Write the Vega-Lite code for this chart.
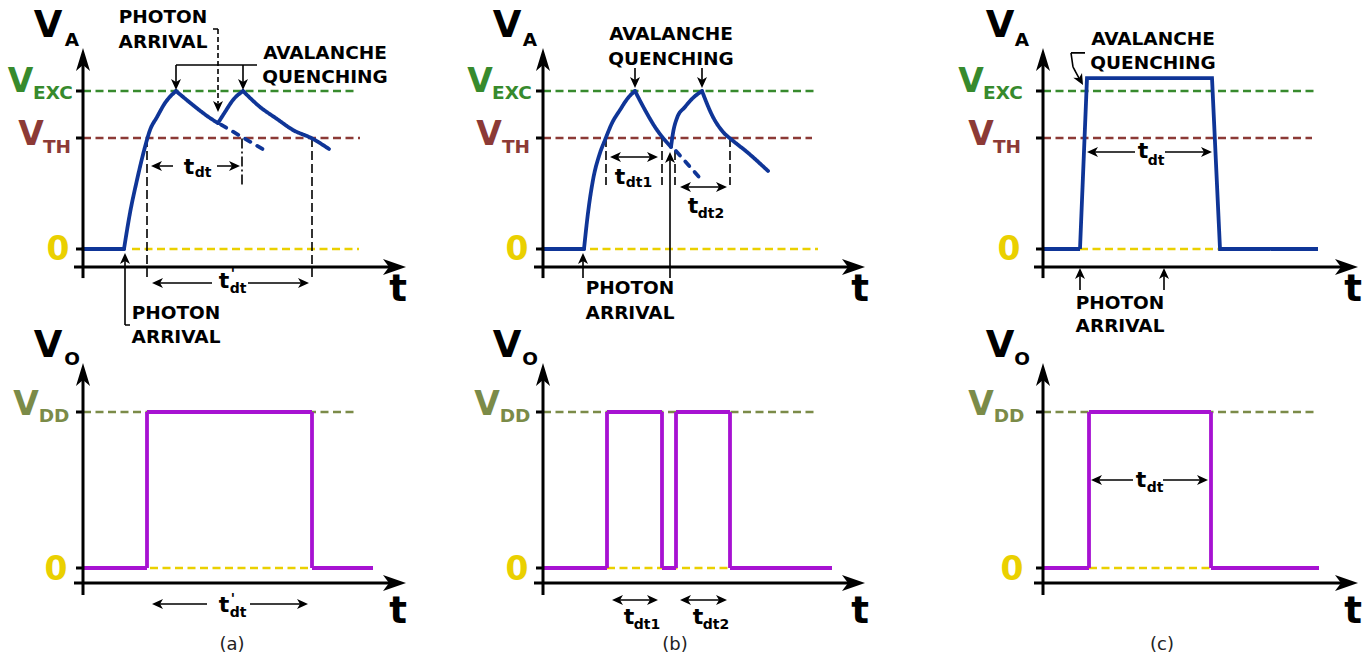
{
"$schema": "https://vega.github.io/schema/vega-lite/v6.json",
"padding": 0,
"background": "white",
"columns": 3,
"spacing": 0,
"bounds": "flush",
"align": "each",
"config": {"view": {"stroke": null}, "font": "DejaVu Sans", "legend": {"disable": true}},
"datasets": {
"sig": [
{"p":"aT","seg":"f","i":0,"t":0,"v":0,"h":"va","k":"solid"},
{"p":"aT","seg":"f","i":1,"t":4.1,"v":0,"h":"va","k":"solid"},
{"p":"aT","seg":"r1","i":2,"t":4.1,"v":0,"h":"va","k":"solid"},
{"p":"aT","seg":"r1","i":3,"t":4.7,"v":0.228,"h":"va","k":"solid"},
{"p":"aT","seg":"r1","i":4,"t":5.4,"v":0.437,"h":"va","k":"solid"},
{"p":"aT","seg":"r1","i":5,"t":6.2,"v":0.646,"h":"va","k":"solid"},
{"p":"aT","seg":"r1","i":6,"t":6.7,"v":0.753,"h":"va","k":"solid"},
{"p":"aT","seg":"r1","i":7,"t":7.4,"v":0.835,"h":"va","k":"solid"},
{"p":"aT","seg":"r1","i":8,"t":8.2,"v":0.924,"h":"va","k":"solid"},
{"p":"aT","seg":"r1","i":9,"t":9.3,"v":1,"h":"va","k":"solid"},
{"p":"aT","seg":"d1","i":10,"t":9.3,"v":1,"h":"va","k":"solid"},
{"p":"aT","seg":"d1","i":11,"t":11.0,"v":0.911,"h":"va","k":"solid"},
{"p":"aT","seg":"d1","i":12,"t":12.7,"v":0.829,"h":"va","k":"solid"},
{"p":"aT","seg":"d1","i":13,"t":13.5,"v":0.797,"h":"va","k":"solid"},
{"p":"aT","seg":"r2","i":14,"t":13.5,"v":0.797,"h":"va","k":"solid"},
{"p":"aT","seg":"r2","i":15,"t":14.2,"v":0.867,"h":"va","k":"solid"},
{"p":"aT","seg":"r2","i":16,"t":15.0,"v":0.943,"h":"va","k":"solid"},
{"p":"aT","seg":"r2","i":17,"t":16.0,"v":1,"h":"va","k":"solid"},
{"p":"aT","seg":"d2","i":18,"t":16.0,"v":1,"h":"va","k":"solid"},
{"p":"aT","seg":"d2","i":19,"t":17.7,"v":0.899,"h":"va","k":"solid"},
{"p":"aT","seg":"d2","i":20,"t":19.4,"v":0.823,"h":"va","k":"solid"},
{"p":"aT","seg":"d2","i":21,"t":21.0,"v":0.753,"h":"va","k":"solid"},
{"p":"aT","seg":"d2","i":22,"t":22.9,"v":0.70,"h":"va","k":"solid"},
{"p":"aT","seg":"d2","i":23,"t":24.6,"v":0.633,"h":"va","k":"solid"},
{"p":"aT","seg":"x","i":24,"t":13.8,"v":0.787,"h":"va","k":"sdash"},
{"p":"aT","seg":"x","i":25,"t":18.3,"v":0.62,"h":"va","k":"sdash"},
{"p":"bT","seg":"f","i":0,"t":0,"v":0,"h":"va","k":"solid"},
{"p":"bT","seg":"f","i":1,"t":4.1,"v":0,"h":"va","k":"solid"},
{"p":"bT","seg":"r1","i":2,"t":4.1,"v":0,"h":"va","k":"solid"},
{"p":"bT","seg":"r1","i":3,"t":4.5,"v":0.228,"h":"va","k":"solid"},
{"p":"bT","seg":"r1","i":4,"t":5.0,"v":0.437,"h":"va","k":"solid"},
{"p":"bT","seg":"r1","i":5,"t":5.7,"v":0.608,"h":"va","k":"solid"},
{"p":"bT","seg":"r1","i":6,"t":6.2,"v":0.69,"h":"va","k":"solid"},
{"p":"bT","seg":"r1","i":7,"t":6.9,"v":0.797,"h":"va","k":"solid"},
{"p":"bT","seg":"r1","i":8,"t":7.7,"v":0.88,"h":"va","k":"solid"},
{"p":"bT","seg":"r1","i":9,"t":8.5,"v":0.956,"h":"va","k":"solid"},
{"p":"bT","seg":"r1","i":10,"t":9.2,"v":1,"h":"va","k":"solid"},
{"p":"bT","seg":"d1","i":11,"t":9.2,"v":1,"h":"va","k":"solid"},
{"p":"bT","seg":"d1","i":12,"t":10.2,"v":0.88,"h":"va","k":"solid"},
{"p":"bT","seg":"d1","i":13,"t":11.2,"v":0.772,"h":"va","k":"solid"},
{"p":"bT","seg":"d1","i":14,"t":12.0,"v":0.703,"h":"va","k":"solid"},
{"p":"bT","seg":"d1","i":15,"t":12.8,"v":0.646,"h":"va","k":"solid"},
{"p":"bT","seg":"r2","i":16,"t":12.8,"v":0.646,"h":"va","k":"solid"},
{"p":"bT","seg":"r2","i":17,"t":13.0,"v":0.734,"h":"va","k":"solid"},
{"p":"bT","seg":"r2","i":18,"t":13.4,"v":0.829,"h":"va","k":"solid"},
{"p":"bT","seg":"r2","i":19,"t":14.2,"v":0.899,"h":"va","k":"solid"},
{"p":"bT","seg":"r2","i":20,"t":15.0,"v":0.956,"h":"va","k":"solid"},
{"p":"bT","seg":"r2","i":21,"t":15.9,"v":1,"h":"va","k":"solid"},
{"p":"bT","seg":"d2","i":22,"t":15.9,"v":1,"h":"va","k":"solid"},
{"p":"bT","seg":"d2","i":23,"t":17.0,"v":0.835,"h":"va","k":"solid"},
{"p":"bT","seg":"d2","i":24,"t":18.0,"v":0.741,"h":"va","k":"solid"},
{"p":"bT","seg":"d2","i":25,"t":18.9,"v":0.69,"h":"va","k":"solid"},
{"p":"bT","seg":"d2","i":26,"t":20.4,"v":0.614,"h":"va","k":"solid"},
{"p":"bT","seg":"d2","i":27,"t":22.5,"v":0.494,"h":"va","k":"solid"},
{"p":"bT","seg":"x","i":28,"t":13.3,"v":0.62,"h":"va","k":"sdash"},
{"p":"bT","seg":"x","i":29,"t":15.6,"v":0.456,"h":"va","k":"sdash"},
{"p":"cT","seg":"c1","i":0,"t":0,"v":0,"h":"va","k":"solid"},
{"p":"cT","seg":"c1","i":1,"t":3.7,"v":0,"h":"va","k":"solid"},
{"p":"cT","seg":"c1","i":2,"t":4.4,"v":1.082,"h":"va","k":"solid"},
{"p":"cT","seg":"c1","i":3,"t":16.9,"v":1.082,"h":"va","k":"solid"},
{"p":"cT","seg":"c1","i":4,"t":17.7,"v":0,"h":"va","k":"solid"},
{"p":"cT","seg":"c1","i":5,"t":27.5,"v":0,"h":"va","k":"solid"},
{"p":"aB","seg":"d1","i":0,"t":0,"v":0,"h":"vo","k":"solid"},
{"p":"aB","seg":"d1","i":1,"t":6.4,"v":0,"h":"vo","k":"solid"},
{"p":"aB","seg":"d1","i":2,"t":6.4,"v":1,"h":"vo","k":"solid"},
{"p":"aB","seg":"d1","i":3,"t":22.9,"v":1,"h":"vo","k":"solid"},
{"p":"aB","seg":"d1","i":4,"t":22.9,"v":0,"h":"vo","k":"solid"},
{"p":"aB","seg":"d1","i":5,"t":29.0,"v":0,"h":"vo","k":"solid"},
{"p":"bB","seg":"e1","i":0,"t":0,"v":0,"h":"vo","k":"solid"},
{"p":"bB","seg":"e1","i":1,"t":6.4,"v":0,"h":"vo","k":"solid"},
{"p":"bB","seg":"e1","i":2,"t":6.4,"v":1,"h":"vo","k":"solid"},
{"p":"bB","seg":"e1","i":3,"t":11.9,"v":1,"h":"vo","k":"solid"},
{"p":"bB","seg":"e1","i":4,"t":11.9,"v":0,"h":"vo","k":"solid"},
{"p":"bB","seg":"e1","i":5,"t":13.3,"v":0,"h":"vo","k":"solid"},
{"p":"bB","seg":"e1","i":6,"t":13.3,"v":1,"h":"vo","k":"solid"},
{"p":"bB","seg":"e1","i":7,"t":18.7,"v":1,"h":"vo","k":"solid"},
{"p":"bB","seg":"e1","i":8,"t":18.7,"v":0,"h":"vo","k":"solid"},
{"p":"bB","seg":"e1","i":9,"t":28.9,"v":0,"h":"vo","k":"solid"},
{"p":"cB","seg":"f1","i":0,"t":0,"v":0,"h":"vo","k":"solid"},
{"p":"cB","seg":"f1","i":1,"t":4.6,"v":0,"h":"vo","k":"solid"},
{"p":"cB","seg":"f1","i":2,"t":4.6,"v":1,"h":"vo","k":"solid"},
{"p":"cB","seg":"f1","i":3,"t":16.8,"v":1,"h":"vo","k":"solid"},
{"p":"cB","seg":"f1","i":4,"t":16.8,"v":0,"h":"vo","k":"solid"},
{"p":"cB","seg":"f1","i":5,"t":27.6,"v":0,"h":"vo","k":"solid"}
],
"refs": [
{"p":"aT","t":0,"t2":27.5,"v":1,"h":"exc"},
{"p":"aT","t":0,"t2":27.7,"v":0.7025,"h":"th"},
{"p":"aT","t":4.9,"t2":27.6,"v":0,"h":"zero"},
{"p":"bT","t":0,"t2":27.4,"v":1,"h":"exc"},
{"p":"bT","t":0,"t2":26.9,"v":0.7025,"h":"th"},
{"p":"bT","t":4.7,"t2":27.5,"v":0,"h":"zero"},
{"p":"cT","t":0,"t2":27.4,"v":1,"h":"exc"},
{"p":"cT","t":0,"t2":26.9,"v":0.7025,"h":"th"},
{"p":"cT","t":3.7,"t2":17.7,"v":0,"h":"zero"},
{"p":"aB","t":0,"t2":27.4,"v":1,"h":"dd"},
{"p":"aB","t":6.7,"t2":22.7,"v":0,"h":"zero"},
{"p":"bB","t":0,"t2":27.4,"v":1,"h":"dd"},
{"p":"bB","t":6.4,"t2":18.7,"v":0,"h":"zero"},
{"p":"cB","t":0,"t2":27.4,"v":1,"h":"dd"},
{"p":"cB","t":4.6,"t2":16.8,"v":0,"h":"zero"}
],
"thick": [
{"p":"aT","t":0,"v":-0.184,"t2":0,"v2":1.196},
{"p":"aT","t":-0.9,"v":-0.114,"t2":31.1,"v2":-0.114},
{"p":"aT","t":-0.7,"v":1,"t2":0,"v2":1},
{"p":"aT","t":-0.7,"v":0.7025,"t2":0,"v2":0.7025},
{"p":"aT","t":-0.7,"v":0,"t2":0,"v2":0},
{"p":"bT","t":0,"v":-0.184,"t2":0,"v2":1.196},
{"p":"bT","t":-0.9,"v":-0.114,"t2":31.0,"v2":-0.114},
{"p":"bT","t":-0.7,"v":1,"t2":0,"v2":1},
{"p":"bT","t":-0.7,"v":0.7025,"t2":0,"v2":0.7025},
{"p":"bT","t":-0.7,"v":0,"t2":0,"v2":0},
{"p":"cT","t":0,"v":-0.184,"t2":0,"v2":1.196},
{"p":"cT","t":-0.9,"v":-0.114,"t2":30.3,"v2":-0.114},
{"p":"cT","t":-0.7,"v":1,"t2":0,"v2":1},
{"p":"cT","t":-0.7,"v":0.7025,"t2":0,"v2":0.7025},
{"p":"cT","t":-0.7,"v":0,"t2":0,"v2":0},
{"p":"aB","t":0,"v":-0.173,"t2":0,"v2":1.237},
{"p":"aB","t":-0.9,"v":-0.096,"t2":31.1,"v2":-0.096},
{"p":"aB","t":-0.7,"v":1,"t2":0,"v2":1},
{"p":"aB","t":-0.7,"v":0,"t2":0,"v2":0},
{"p":"bB","t":0,"v":-0.173,"t2":0,"v2":1.237},
{"p":"bB","t":-0.9,"v":-0.096,"t2":31.0,"v2":-0.096},
{"p":"bB","t":-0.7,"v":1,"t2":0,"v2":1},
{"p":"bB","t":-0.7,"v":0,"t2":0,"v2":0},
{"p":"cB","t":0,"v":-0.173,"t2":0,"v2":1.237},
{"p":"cB","t":-0.9,"v":-0.096,"t2":30.3,"v2":-0.096},
{"p":"cB","t":-0.7,"v":1,"t2":0,"v2":1},
{"p":"cB","t":-0.7,"v":0,"t2":0,"v2":0}
],
"thin": [
{"p":"aT","t":6.4,"v":0.7025,"t2":6.4,"v2":-0.177,"k":"vdash"},
{"p":"aT","t":22.9,"v":0.7025,"t2":22.9,"v2":-0.177,"k":"vdash"},
{"p":"aT","t":15.9,"v":0.70,"t2":15.9,"v2":0.405,"k":"dashdot"},
{"p":"aT","t":7.2,"v":0.525,"t2":9.0,"v2":0.525,"k":"solid"},
{"p":"aT","t":13.4,"v":0.525,"t2":15.3,"v2":0.525,"k":"solid"},
{"p":"aT","t":7.3,"v":-0.215,"t2":12.9,"v2":-0.215,"k":"solid"},
{"p":"aT","t":16.5,"v":-0.215,"t2":22.2,"v2":-0.215,"k":"solid"},
{"p":"aT","t":13.0,"v":1.392,"t2":13.5,"v2":1.392,"k":"solid"},
{"p":"aT","t":13.5,"v":1.392,"t2":13.5,"v2":0.92,"k":"dash"},
{"p":"aT","t":9.3,"v":1.165,"t2":17.4,"v2":1.165,"k":"solid"},
{"p":"aT","t":9.3,"v":1.165,"t2":9.3,"v2":1.04,"k":"solid"},
{"p":"aT","t":16.0,"v":1.165,"t2":16.0,"v2":1.04,"k":"solid"},
{"p":"aT","t":4.2,"v":-0.481,"t2":4.2,"v2":-0.06,"k":"solid"},
{"p":"aT","t":4.2,"v":-0.481,"t2":4.7,"v2":-0.481,"k":"solid"},
{"p":"bT","t":6.3,"v":0.7025,"t2":6.3,"v2":0.405,"k":"vdash"},
{"p":"bT","t":11.9,"v":0.7025,"t2":11.9,"v2":0.405,"k":"vdash"},
{"p":"bT","t":13.2,"v":0.62,"t2":13.2,"v2":0.405,"k":"vdash"},
{"p":"bT","t":18.7,"v":0.7025,"t2":18.7,"v2":0.405,"k":"vdash"},
{"p":"bT","t":7.1,"v":0.582,"t2":11.1,"v2":0.582,"k":"solid"},
{"p":"bT","t":14.1,"v":0.392,"t2":18.0,"v2":0.392,"k":"solid"},
{"p":"bT","t":9.2,"v":1.146,"t2":9.2,"v2":1.06,"k":"solid"},
{"p":"bT","t":15.9,"v":1.146,"t2":15.9,"v2":1.06,"k":"solid"},
{"p":"bT","t":4.0,"v":-0.184,"t2":4.0,"v2":-0.06,"k":"solid"},
{"p":"bT","t":12.7,"v":-0.184,"t2":12.7,"v2":0.58,"k":"solid"},
{"p":"cT","t":4.2,"v":1.241,"t2":2.8,"v2":1.241,"k":"solid"},
{"p":"cT","t":2.8,"v":1.241,"t2":3.0,"v2":1.152,"k":"solid"},
{"p":"cT","t":3.0,"v":1.152,"t2":3.7,"v2":1.07,"k":"solid"},
{"p":"cT","t":4.8,"v":0.614,"t2":9.2,"v2":0.614,"k":"solid"},
{"p":"cT","t":12.2,"v":0.614,"t2":16.5,"v2":0.614,"k":"solid"},
{"p":"cT","t":3.7,"v":-0.259,"t2":3.7,"v2":-0.16,"k":"solid"},
{"p":"cT","t":12.1,"v":-0.259,"t2":12.1,"v2":-0.16,"k":"solid"},
{"p":"aB","t":7.3,"v":-0.231,"t2":12.4,"v2":-0.231,"k":"solid"},
{"p":"aB","t":16.7,"v":-0.231,"t2":22.1,"v2":-0.231,"k":"solid"},
{"p":"bB","t":7.3,"v":-0.205,"t2":11.1,"v2":-0.205,"k":"solid"},
{"p":"bB","t":14.1,"v":-0.205,"t2":18.0,"v2":-0.205,"k":"solid"},
{"p":"cB","t":5.2,"v":0.564,"t2":9.0,"v2":0.564,"k":"solid"},
{"p":"cB","t":12.0,"v":0.564,"t2":16.1,"v2":0.564,"k":"solid"}
],
"heads": [
{"p":"aT","t":0,"v":1.272,"k":"axu"},
{"p":"aT","t":32.3,"v":-0.114,"k":"axr"},
{"p":"aT","t":6.8,"v":0.525,"k":"l"},
{"p":"aT","t":15.7,"v":0.525,"k":"r"},
{"p":"aT","t":6.9,"v":-0.215,"k":"l"},
{"p":"aT","t":22.6,"v":-0.215,"k":"r"},
{"p":"aT","t":13.5,"v":0.867,"k":"d"},
{"p":"aT","t":9.3,"v":1.006,"k":"d"},
{"p":"aT","t":16.0,"v":1.006,"k":"d"},
{"p":"aT","t":4.2,"v":-0.025,"k":"u"},
{"p":"bT","t":0,"v":1.272,"k":"axu"},
{"p":"bT","t":32.2,"v":-0.114,"k":"axr"},
{"p":"bT","t":9.2,"v":1.019,"k":"d"},
{"p":"bT","t":15.9,"v":1.019,"k":"d"},
{"p":"bT","t":4.0,"v":-0.025,"k":"u"},
{"p":"bT","t":12.7,"v":0.614,"k":"u"},
{"p":"bT","t":6.7,"v":0.582,"k":"l"},
{"p":"bT","t":11.5,"v":0.582,"k":"r"},
{"p":"bT","t":13.7,"v":0.392,"k":"l"},
{"p":"bT","t":18.4,"v":0.392,"k":"r"},
{"p":"cT","t":0,"v":1.272,"k":"axu"},
{"p":"cT","t":31.5,"v":-0.114,"k":"axr"},
{"p":"cT","t":4.0,"v":1.038,"k":"g"},
{"p":"cT","t":4.4,"v":0.614,"k":"l"},
{"p":"cT","t":16.9,"v":0.614,"k":"r"},
{"p":"cT","t":3.7,"v":-0.12,"k":"u"},
{"p":"cT","t":12.1,"v":-0.12,"k":"u"},
{"p":"aB","t":0,"v":1.314,"k":"axu"},
{"p":"aB","t":32.3,"v":-0.096,"k":"axr"},
{"p":"aB","t":6.9,"v":-0.231,"k":"l"},
{"p":"aB","t":22.5,"v":-0.231,"k":"r"},
{"p":"bB","t":0,"v":1.314,"k":"axu"},
{"p":"bB","t":32.2,"v":-0.096,"k":"axr"},
{"p":"bB","t":6.9,"v":-0.205,"k":"l"},
{"p":"bB","t":11.5,"v":-0.205,"k":"r"},
{"p":"bB","t":13.7,"v":-0.205,"k":"l"},
{"p":"bB","t":18.4,"v":-0.205,"k":"r"},
{"p":"cB","t":0,"v":1.314,"k":"axu"},
{"p":"cB","t":31.5,"v":-0.096,"k":"axr"},
{"p":"cB","t":4.8,"v":0.564,"k":"l"},
{"p":"cB","t":16.5,"v":0.564,"k":"r"}
],
"txt": [
{"p":"aT","t":-3.5,"v":1.409,"s":"V","h":"ink","r":"xl"},
{"p":"aT","t":31.5,"v":-0.262,"s":"t","h":"ink","r":"xl"},
{"p":"aT","t":-1.1,"v":1.321,"s":"A","h":"ink","r":"m"},
{"p":"aT","t":-3.0,"v":0.986,"s":"EXC","h":"exc","r":"m"},
{"p":"aT","t":-2.6,"v":0.644,"s":"TH","h":"th","r":"m"},
{"p":"aT","t":8.0,"v":1.467,"s":"PHOTON","h":"ink","r":"m"},
{"p":"aT","t":8.0,"v":1.308,"s":"ARRIVAL","h":"ink","r":"m"},
{"p":"aT","t":24.2,"v":1.239,"s":"AVALANCHE","h":"ink","r":"m"},
{"p":"aT","t":24.2,"v":1.087,"s":"QUENCHING","h":"ink","r":"m"},
{"p":"aT","t":9.3,"v":-0.407,"s":"PHOTON","h":"ink","r":"m"},
{"p":"aT","t":9.3,"v":-0.559,"s":"ARRIVAL","h":"ink","r":"m"},
{"p":"aT","t":-6.25,"v":1.057,"s":"V","h":"exc","r":"l"},
{"p":"aT","t":-5.2,"v":0.721,"s":"V","h":"th","r":"l"},
{"p":"aT","t":-2.5,"v":-0.007,"s":"0","h":"zero","r":"l"},
{"p":"aT","t":10.6,"v":0.518,"s":"t","h":"ink","r":"s"},
{"p":"aT","t":14.1,"v":-0.203,"s":"t","h":"ink","r":"s"},
{"p":"aT","t":12.0,"v":0.48,"s":"dt","h":"ink","r":"xs"},
{"p":"aT","t":15.5,"v":-0.256,"s":"dt","h":"ink","r":"xs"},
{"p":"aT","t":15.0,"v":-0.16,"s":"'","h":"ink","r":"xs"},
{"p":"bT","t":-3.6,"v":1.409,"s":"V","h":"ink","r":"xl"},
{"p":"bT","t":31.7,"v":-0.262,"s":"t","h":"ink","r":"xl"},
{"p":"bT","t":-1.3,"v":1.321,"s":"A","h":"ink","r":"m"},
{"p":"bT","t":-3.1,"v":0.986,"s":"EXC","h":"exc","r":"m"},
{"p":"bT","t":-2.7,"v":0.644,"s":"TH","h":"th","r":"m"},
{"p":"bT","t":12.8,"v":1.359,"s":"AVALANCHE","h":"ink","r":"m"},
{"p":"bT","t":12.8,"v":1.201,"s":"QUENCHING","h":"ink","r":"m"},
{"p":"bT","t":8.7,"v":-0.249,"s":"PHOTON","h":"ink","r":"m"},
{"p":"bT","t":8.7,"v":-0.407,"s":"ARRIVAL","h":"ink","r":"m"},
{"p":"bT","t":-6.3,"v":1.057,"s":"V","h":"exc","r":"l"},
{"p":"bT","t":-5.4,"v":0.721,"s":"V","h":"th","r":"l"},
{"p":"bT","t":-2.6,"v":-0.007,"s":"0","h":"zero","r":"l"},
{"p":"bT","t":7.7,"v":0.458,"s":"t","h":"ink","r":"s"},
{"p":"bT","t":15.0,"v":0.271,"s":"t","h":"ink","r":"s"},
{"p":"bT","t":9.6,"v":0.417,"s":"dt1","h":"ink","r":"xs"},
{"p":"bT","t":16.8,"v":0.224,"s":"dt2","h":"ink","r":"xs"},
{"p":"cT","t":-4.3,"v":1.409,"s":"V","h":"ink","r":"xl"},
{"p":"cT","t":31.0,"v":-0.262,"s":"t","h":"ink","r":"xl"},
{"p":"cT","t":-2.1,"v":1.321,"s":"A","h":"ink","r":"m"},
{"p":"cT","t":-4.0,"v":0.986,"s":"EXC","h":"exc","r":"m"},
{"p":"cT","t":-3.6,"v":0.644,"s":"TH","h":"th","r":"m"},
{"p":"cT","t":11.0,"v":1.327,"s":"AVALANCHE","h":"ink","r":"m"},
{"p":"cT","t":11.0,"v":1.176,"s":"QUENCHING","h":"ink","r":"m"},
{"p":"cT","t":7.7,"v":-0.343,"s":"PHOTON","h":"ink","r":"m"},
{"p":"cT","t":7.7,"v":-0.489,"s":"ARRIVAL","h":"ink","r":"m"},
{"p":"cT","t":-7.2,"v":1.057,"s":"V","h":"exc","r":"l"},
{"p":"cT","t":-6.2,"v":0.721,"s":"V","h":"th","r":"l"},
{"p":"cT","t":-3.4,"v":-0.007,"s":"0","h":"zero","r":"l"},
{"p":"cT","t":10.0,"v":0.62,"s":"t","h":"ink","r":"s"},
{"p":"cT","t":11.3,"v":0.556,"s":"dt","h":"ink","r":"xs"},
{"p":"aB","t":-3.5,"v":1.424,"s":"V","h":"ink","r":"xl"},
{"p":"aB","t":31.5,"v":-0.284,"s":"t","h":"ink","r":"xl"},
{"p":"aB","t":-1.1,"v":1.341,"s":"O","h":"ink","r":"m"},
{"p":"aB","t":-2.9,"v":0.973,"s":"DD","h":"dd","r":"m"},
{"p":"aB","t":-5.7,"v":1.045,"s":"V","h":"dd","r":"l"},
{"p":"aB","t":-2.7,"v":-0.013,"s":"0","h":"zero","r":"l"},
{"p":"aB","t":14.1,"v":-0.235,"s":"t","h":"ink","r":"s"},
{"p":"aB","t":15.5,"v":-0.286,"s":"dt","h":"ink","r":"xs"},
{"p":"aB","t":15.0,"v":-0.199,"s":"'","h":"ink","r":"xs"},
{"p":"aB","t":14.9,"v":-0.494,"s":"(a)","h":"ink","r":"cap"},
{"p":"bB","t":-3.6,"v":1.424,"s":"V","h":"ink","r":"xl"},
{"p":"bB","t":31.7,"v":-0.284,"s":"t","h":"ink","r":"xl"},
{"p":"bB","t":-1.3,"v":1.341,"s":"O","h":"ink","r":"m"},
{"p":"bB","t":-2.8,"v":0.973,"s":"DD","h":"dd","r":"m"},
{"p":"bB","t":-5.6,"v":1.045,"s":"V","h":"dd","r":"l"},
{"p":"bB","t":-2.6,"v":-0.013,"s":"0","h":"zero","r":"l"},
{"p":"bB","t":8.6,"v":-0.315,"s":"t","h":"ink","r":"s"},
{"p":"bB","t":15.5,"v":-0.315,"s":"t","h":"ink","r":"s"},
{"p":"bB","t":10.4,"v":-0.366,"s":"dt1","h":"ink","r":"xs"},
{"p":"bB","t":17.3,"v":-0.366,"s":"dt2","h":"ink","r":"xs"},
{"p":"bB","t":13.2,"v":-0.494,"s":"(b)","h":"ink","r":"cap"},
{"p":"cB","t":-4.3,"v":1.424,"s":"V","h":"ink","r":"xl"},
{"p":"cB","t":31.0,"v":-0.284,"s":"t","h":"ink","r":"xl"},
{"p":"cB","t":-2.1,"v":1.341,"s":"O","h":"ink","r":"m"},
{"p":"cB","t":-3.4,"v":0.973,"s":"DD","h":"dd","r":"m"},
{"p":"cB","t":-6.2,"v":1.045,"s":"V","h":"dd","r":"l"},
{"p":"cB","t":-3.1,"v":-0.013,"s":"0","h":"zero","r":"l"},
{"p":"cB","t":9.8,"v":0.564,"s":"t","h":"ink","r":"s"},
{"p":"cB","t":11.2,"v":0.512,"s":"dt","h":"ink","r":"xs"},
{"p":"cB","t":11.9,"v":-0.494,"s":"(c)","h":"ink","r":"cap"}
]
},
"concat": [
{"width":460,"height":330,
"encoding":{"x":{"field":"t","type":"quantitative","axis":null,"scale":{"domain":[-8.3,37.7],"nice":false,"zero":false}},"y":{"field":"v","type":"quantitative","axis":null,"scale":{"domain":[-0.51266,1.57595],"nice":false,"zero":false}}},
"layer":[
{"data":{"name":"refs"},"transform":[{"filter":"datum.p=='aT'"}],"mark":{"type":"rule","strokeWidth":2.4,"strokeDash":[8,4.5]},"encoding":{"x2":{"field":"t2"},"color":{"field":"h","type":"nominal","legend":null,"scale":{"domain":["exc","th","zero","dd","va","vo","ink"],"range":["#378a2d","#8c3a36","#ead000","#7b8b48","#0f3597","#a712d2","#000000"]}}}},
{"data":{"name":"thin"},"transform":[{"filter":"datum.p=='aT'"}],"mark":{"type":"rule","strokeWidth":1.6,"color":"#000"},"encoding":{"x2":{"field":"t2"},"y2":{"field":"v2"},"strokeDash":{"field":"k","type":"nominal","legend":null,"scale":{"domain":["solid","dash","vdash","dashdot","sdash"],"range":[[1,0],[5,3],[9,4],[10,3,2,3],[6,8]]}}}},
{"data":{"name":"sig"},"transform":[{"filter":"datum.p=='aT'"}],"mark":{"type":"line","strokeWidth":3.8,"interpolate":"monotone","strokeCap":"round"},"encoding":{"color":{"field":"h","type":"nominal","legend":null,"scale":{"domain":["exc","th","zero","dd","va","vo","ink"],"range":["#378a2d","#8c3a36","#ead000","#7b8b48","#0f3597","#a712d2","#000000"]}},"detail":{"field":"seg","type":"nominal"},"order":{"field":"i","type":"quantitative"},"strokeDash":{"field":"k","type":"nominal","legend":null,"scale":{"domain":["solid","dash","vdash","dashdot","sdash"],"range":[[1,0],[5,3],[9,4],[10,3,2,3],[6,8]]}}}},
{"data":{"name":"thick"},"transform":[{"filter":"datum.p=='aT'"}],"mark":{"type":"rule","strokeWidth":3,"color":"#000"},"encoding":{"x2":{"field":"t2"},"y2":{"field":"v2"}}},
{"data":{"name":"heads"},"transform":[{"filter":"datum.p=='aT'"}],"mark":{"type":"point","filled":true,"size":400,"opacity":1,"color":"#000","strokeWidth":0},"encoding":{"shape":{"field":"k","type":"nominal","legend":null,"scale":{"domain":["axr","axu","r","l","u","d","g"],"range":["M0,0L-2.3,-0.8L-1.7,0L-2.3,0.8Z","M0,0L0.7,2.3L0,1.7L-0.7,2.3Z","M0,0L-1.1,-0.5L-0.8,0L-1.1,0.5Z","M0,0L1.1,-0.5L0.8,0L1.1,0.5Z","M0,0L0.5,1.1L0,0.8L-0.5,1.1Z","M0,0L0.5,-1.1L0,-0.8L-0.5,-1.1Z","M0,0L-0.97,-0.72L-0.39,-0.7L-0.1,-1.2Z"]}}}},
{"data":{"name":"txt"},"transform":[{"filter":"datum.p=='aT' && datum.r=='xl'"}],"mark":{"type":"text","font":"DejaVu Sans","fontWeight":"bold","fontSize":37},"encoding":{"text":{"field":"s"},"color":{"field":"h","type":"nominal","legend":null,"scale":{"domain":["exc","th","zero","dd","va","vo","ink"],"range":["#378a2d","#8c3a36","#ead000","#7b8b48","#0f3597","#a712d2","#000000"]}}}},
{"data":{"name":"txt"},"transform":[{"filter":"datum.p=='aT' && datum.r=='l'"}],"mark":{"type":"text","font":"DejaVu Sans","fontWeight":"bold","fontSize":33},"encoding":{"text":{"field":"s"},"color":{"field":"h","type":"nominal","legend":null,"scale":{"domain":["exc","th","zero","dd","va","vo","ink"],"range":["#378a2d","#8c3a36","#ead000","#7b8b48","#0f3597","#a712d2","#000000"]}}}},
{"data":{"name":"txt"},"transform":[{"filter":"datum.p=='aT' && datum.r=='m'"}],"mark":{"type":"text","font":"DejaVu Sans","fontWeight":"bold","fontSize":18.5},"encoding":{"text":{"field":"s"},"color":{"field":"h","type":"nominal","legend":null,"scale":{"domain":["exc","th","zero","dd","va","vo","ink"],"range":["#378a2d","#8c3a36","#ead000","#7b8b48","#0f3597","#a712d2","#000000"]}}}},
{"data":{"name":"txt"},"transform":[{"filter":"datum.p=='aT' && datum.r=='s'"}],"mark":{"type":"text","font":"DejaVu Sans","fontWeight":"bold","fontSize":22,"color":"#000"},"encoding":{"text":{"field":"s"}}},
{"data":{"name":"txt"},"transform":[{"filter":"datum.p=='aT' && datum.r=='xs'"}],"mark":{"type":"text","font":"DejaVu Sans","fontWeight":"bold","fontSize":14,"color":"#000"},"encoding":{"text":{"field":"s"}}}
]},
{"width":500,"height":330,
"encoding":{"x":{"field":"t","type":"quantitative","axis":null,"scale":{"domain":[-8.3,41.7],"nice":false,"zero":false}},"y":{"field":"v","type":"quantitative","axis":null,"scale":{"domain":[-0.51266,1.57595],"nice":false,"zero":false}}},
"layer":[
{"data":{"name":"refs"},"transform":[{"filter":"datum.p=='bT'"}],"mark":{"type":"rule","strokeWidth":2.4,"strokeDash":[8,4.5]},"encoding":{"x2":{"field":"t2"},"color":{"field":"h","type":"nominal","legend":null,"scale":{"domain":["exc","th","zero","dd","va","vo","ink"],"range":["#378a2d","#8c3a36","#ead000","#7b8b48","#0f3597","#a712d2","#000000"]}}}},
{"data":{"name":"thin"},"transform":[{"filter":"datum.p=='bT'"}],"mark":{"type":"rule","strokeWidth":1.6,"color":"#000"},"encoding":{"x2":{"field":"t2"},"y2":{"field":"v2"},"strokeDash":{"field":"k","type":"nominal","legend":null,"scale":{"domain":["solid","dash","vdash","dashdot","sdash"],"range":[[1,0],[5,3],[9,4],[10,3,2,3],[6,8]]}}}},
{"data":{"name":"sig"},"transform":[{"filter":"datum.p=='bT'"}],"mark":{"type":"line","strokeWidth":3.8,"interpolate":"monotone","strokeCap":"round"},"encoding":{"color":{"field":"h","type":"nominal","legend":null,"scale":{"domain":["exc","th","zero","dd","va","vo","ink"],"range":["#378a2d","#8c3a36","#ead000","#7b8b48","#0f3597","#a712d2","#000000"]}},"detail":{"field":"seg","type":"nominal"},"order":{"field":"i","type":"quantitative"},"strokeDash":{"field":"k","type":"nominal","legend":null,"scale":{"domain":["solid","dash","vdash","dashdot","sdash"],"range":[[1,0],[5,3],[9,4],[10,3,2,3],[6,8]]}}}},
{"data":{"name":"thick"},"transform":[{"filter":"datum.p=='bT'"}],"mark":{"type":"rule","strokeWidth":3,"color":"#000"},"encoding":{"x2":{"field":"t2"},"y2":{"field":"v2"}}},
{"data":{"name":"heads"},"transform":[{"filter":"datum.p=='bT'"}],"mark":{"type":"point","filled":true,"size":400,"opacity":1,"color":"#000","strokeWidth":0},"encoding":{"shape":{"field":"k","type":"nominal","legend":null,"scale":{"domain":["axr","axu","r","l","u","d","g"],"range":["M0,0L-2.3,-0.8L-1.7,0L-2.3,0.8Z","M0,0L0.7,2.3L0,1.7L-0.7,2.3Z","M0,0L-1.1,-0.5L-0.8,0L-1.1,0.5Z","M0,0L1.1,-0.5L0.8,0L1.1,0.5Z","M0,0L0.5,1.1L0,0.8L-0.5,1.1Z","M0,0L0.5,-1.1L0,-0.8L-0.5,-1.1Z","M0,0L-0.97,-0.72L-0.39,-0.7L-0.1,-1.2Z"]}}}},
{"data":{"name":"txt"},"transform":[{"filter":"datum.p=='bT' && datum.r=='xl'"}],"mark":{"type":"text","font":"DejaVu Sans","fontWeight":"bold","fontSize":37},"encoding":{"text":{"field":"s"},"color":{"field":"h","type":"nominal","legend":null,"scale":{"domain":["exc","th","zero","dd","va","vo","ink"],"range":["#378a2d","#8c3a36","#ead000","#7b8b48","#0f3597","#a712d2","#000000"]}}}},
{"data":{"name":"txt"},"transform":[{"filter":"datum.p=='bT' && datum.r=='l'"}],"mark":{"type":"text","font":"DejaVu Sans","fontWeight":"bold","fontSize":33},"encoding":{"text":{"field":"s"},"color":{"field":"h","type":"nominal","legend":null,"scale":{"domain":["exc","th","zero","dd","va","vo","ink"],"range":["#378a2d","#8c3a36","#ead000","#7b8b48","#0f3597","#a712d2","#000000"]}}}},
{"data":{"name":"txt"},"transform":[{"filter":"datum.p=='bT' && datum.r=='m'"}],"mark":{"type":"text","font":"DejaVu Sans","fontWeight":"bold","fontSize":18.5},"encoding":{"text":{"field":"s"},"color":{"field":"h","type":"nominal","legend":null,"scale":{"domain":["exc","th","zero","dd","va","vo","ink"],"range":["#378a2d","#8c3a36","#ead000","#7b8b48","#0f3597","#a712d2","#000000"]}}}},
{"data":{"name":"txt"},"transform":[{"filter":"datum.p=='bT' && datum.r=='s'"}],"mark":{"type":"text","font":"DejaVu Sans","fontWeight":"bold","fontSize":22,"color":"#000"},"encoding":{"text":{"field":"s"}}},
{"data":{"name":"txt"},"transform":[{"filter":"datum.p=='bT' && datum.r=='xs'"}],"mark":{"type":"text","font":"DejaVu Sans","fontWeight":"bold","fontSize":14,"color":"#000"},"encoding":{"text":{"field":"s"}}}
]},
{"width":412,"height":330,
"encoding":{"x":{"field":"t","type":"quantitative","axis":null,"scale":{"domain":[-8.3,32.9],"nice":false,"zero":false}},"y":{"field":"v","type":"quantitative","axis":null,"scale":{"domain":[-0.51266,1.57595],"nice":false,"zero":false}}},
"layer":[
{"data":{"name":"refs"},"transform":[{"filter":"datum.p=='cT'"}],"mark":{"type":"rule","strokeWidth":2.4,"strokeDash":[8,4.5]},"encoding":{"x2":{"field":"t2"},"color":{"field":"h","type":"nominal","legend":null,"scale":{"domain":["exc","th","zero","dd","va","vo","ink"],"range":["#378a2d","#8c3a36","#ead000","#7b8b48","#0f3597","#a712d2","#000000"]}}}},
{"data":{"name":"thin"},"transform":[{"filter":"datum.p=='cT'"}],"mark":{"type":"rule","strokeWidth":1.6,"color":"#000"},"encoding":{"x2":{"field":"t2"},"y2":{"field":"v2"},"strokeDash":{"field":"k","type":"nominal","legend":null,"scale":{"domain":["solid","dash","vdash","dashdot","sdash"],"range":[[1,0],[5,3],[9,4],[10,3,2,3],[6,8]]}}}},
{"data":{"name":"sig"},"transform":[{"filter":"datum.p=='cT'"}],"mark":{"type":"line","strokeWidth":3.8},"encoding":{"color":{"field":"h","type":"nominal","legend":null,"scale":{"domain":["exc","th","zero","dd","va","vo","ink"],"range":["#378a2d","#8c3a36","#ead000","#7b8b48","#0f3597","#a712d2","#000000"]}},"detail":{"field":"seg","type":"nominal"},"order":{"field":"i","type":"quantitative"},"strokeDash":{"field":"k","type":"nominal","legend":null,"scale":{"domain":["solid","dash","vdash","dashdot","sdash"],"range":[[1,0],[5,3],[9,4],[10,3,2,3],[6,8]]}}}},
{"data":{"name":"thick"},"transform":[{"filter":"datum.p=='cT'"}],"mark":{"type":"rule","strokeWidth":3,"color":"#000"},"encoding":{"x2":{"field":"t2"},"y2":{"field":"v2"}}},
{"data":{"name":"heads"},"transform":[{"filter":"datum.p=='cT'"}],"mark":{"type":"point","filled":true,"size":400,"opacity":1,"color":"#000","strokeWidth":0},"encoding":{"shape":{"field":"k","type":"nominal","legend":null,"scale":{"domain":["axr","axu","r","l","u","d","g"],"range":["M0,0L-2.3,-0.8L-1.7,0L-2.3,0.8Z","M0,0L0.7,2.3L0,1.7L-0.7,2.3Z","M0,0L-1.1,-0.5L-0.8,0L-1.1,0.5Z","M0,0L1.1,-0.5L0.8,0L1.1,0.5Z","M0,0L0.5,1.1L0,0.8L-0.5,1.1Z","M0,0L0.5,-1.1L0,-0.8L-0.5,-1.1Z","M0,0L-0.97,-0.72L-0.39,-0.7L-0.1,-1.2Z"]}}}},
{"data":{"name":"txt"},"transform":[{"filter":"datum.p=='cT' && datum.r=='xl'"}],"mark":{"type":"text","font":"DejaVu Sans","fontWeight":"bold","fontSize":37},"encoding":{"text":{"field":"s"},"color":{"field":"h","type":"nominal","legend":null,"scale":{"domain":["exc","th","zero","dd","va","vo","ink"],"range":["#378a2d","#8c3a36","#ead000","#7b8b48","#0f3597","#a712d2","#000000"]}}}},
{"data":{"name":"txt"},"transform":[{"filter":"datum.p=='cT' && datum.r=='l'"}],"mark":{"type":"text","font":"DejaVu Sans","fontWeight":"bold","fontSize":33},"encoding":{"text":{"field":"s"},"color":{"field":"h","type":"nominal","legend":null,"scale":{"domain":["exc","th","zero","dd","va","vo","ink"],"range":["#378a2d","#8c3a36","#ead000","#7b8b48","#0f3597","#a712d2","#000000"]}}}},
{"data":{"name":"txt"},"transform":[{"filter":"datum.p=='cT' && datum.r=='m'"}],"mark":{"type":"text","font":"DejaVu Sans","fontWeight":"bold","fontSize":18.5},"encoding":{"text":{"field":"s"},"color":{"field":"h","type":"nominal","legend":null,"scale":{"domain":["exc","th","zero","dd","va","vo","ink"],"range":["#378a2d","#8c3a36","#ead000","#7b8b48","#0f3597","#a712d2","#000000"]}}}},
{"data":{"name":"txt"},"transform":[{"filter":"datum.p=='cT' && datum.r=='s'"}],"mark":{"type":"text","font":"DejaVu Sans","fontWeight":"bold","fontSize":22,"color":"#000"},"encoding":{"text":{"field":"s"}}},
{"data":{"name":"txt"},"transform":[{"filter":"datum.p=='cT' && datum.r=='xs'"}],"mark":{"type":"text","font":"DejaVu Sans","fontWeight":"bold","fontSize":14,"color":"#000"},"encoding":{"text":{"field":"s"}}}
]},
{"width":460,"height":330,
"encoding":{"x":{"field":"t","type":"quantitative","axis":null,"scale":{"domain":[-8.3,37.7],"nice":false,"zero":false}},"y":{"field":"v","type":"quantitative","axis":null,"scale":{"domain":[-0.58974,1.52564],"nice":false,"zero":false}}},
"layer":[
{"data":{"name":"refs"},"transform":[{"filter":"datum.p=='aB'"}],"mark":{"type":"rule","strokeWidth":2.4,"strokeDash":[8,4.5]},"encoding":{"x2":{"field":"t2"},"color":{"field":"h","type":"nominal","legend":null,"scale":{"domain":["exc","th","zero","dd","va","vo","ink"],"range":["#378a2d","#8c3a36","#ead000","#7b8b48","#0f3597","#a712d2","#000000"]}}}},
{"data":{"name":"thin"},"transform":[{"filter":"datum.p=='aB'"}],"mark":{"type":"rule","strokeWidth":1.6,"color":"#000"},"encoding":{"x2":{"field":"t2"},"y2":{"field":"v2"},"strokeDash":{"field":"k","type":"nominal","legend":null,"scale":{"domain":["solid","dash","vdash","dashdot","sdash"],"range":[[1,0],[5,3],[9,4],[10,3,2,3],[6,8]]}}}},
{"data":{"name":"sig"},"transform":[{"filter":"datum.p=='aB'"}],"mark":{"type":"line","strokeWidth":3.8},"encoding":{"color":{"field":"h","type":"nominal","legend":null,"scale":{"domain":["exc","th","zero","dd","va","vo","ink"],"range":["#378a2d","#8c3a36","#ead000","#7b8b48","#0f3597","#a712d2","#000000"]}},"detail":{"field":"seg","type":"nominal"},"order":{"field":"i","type":"quantitative"},"strokeDash":{"field":"k","type":"nominal","legend":null,"scale":{"domain":["solid","dash","vdash","dashdot","sdash"],"range":[[1,0],[5,3],[9,4],[10,3,2,3],[6,8]]}}}},
{"data":{"name":"thick"},"transform":[{"filter":"datum.p=='aB'"}],"mark":{"type":"rule","strokeWidth":3,"color":"#000"},"encoding":{"x2":{"field":"t2"},"y2":{"field":"v2"}}},
{"data":{"name":"heads"},"transform":[{"filter":"datum.p=='aB'"}],"mark":{"type":"point","filled":true,"size":400,"opacity":1,"color":"#000","strokeWidth":0},"encoding":{"shape":{"field":"k","type":"nominal","legend":null,"scale":{"domain":["axr","axu","r","l","u","d","g"],"range":["M0,0L-2.3,-0.8L-1.7,0L-2.3,0.8Z","M0,0L0.7,2.3L0,1.7L-0.7,2.3Z","M0,0L-1.1,-0.5L-0.8,0L-1.1,0.5Z","M0,0L1.1,-0.5L0.8,0L1.1,0.5Z","M0,0L0.5,1.1L0,0.8L-0.5,1.1Z","M0,0L0.5,-1.1L0,-0.8L-0.5,-1.1Z","M0,0L-0.97,-0.72L-0.39,-0.7L-0.1,-1.2Z"]}}}},
{"data":{"name":"txt"},"transform":[{"filter":"datum.p=='aB' && datum.r=='xl'"}],"mark":{"type":"text","font":"DejaVu Sans","fontWeight":"bold","fontSize":37},"encoding":{"text":{"field":"s"},"color":{"field":"h","type":"nominal","legend":null,"scale":{"domain":["exc","th","zero","dd","va","vo","ink"],"range":["#378a2d","#8c3a36","#ead000","#7b8b48","#0f3597","#a712d2","#000000"]}}}},
{"data":{"name":"txt"},"transform":[{"filter":"datum.p=='aB' && datum.r=='l'"}],"mark":{"type":"text","font":"DejaVu Sans","fontWeight":"bold","fontSize":33},"encoding":{"text":{"field":"s"},"color":{"field":"h","type":"nominal","legend":null,"scale":{"domain":["exc","th","zero","dd","va","vo","ink"],"range":["#378a2d","#8c3a36","#ead000","#7b8b48","#0f3597","#a712d2","#000000"]}}}},
{"data":{"name":"txt"},"transform":[{"filter":"datum.p=='aB' && datum.r=='m'"}],"mark":{"type":"text","font":"DejaVu Sans","fontWeight":"bold","fontSize":18.5},"encoding":{"text":{"field":"s"},"color":{"field":"h","type":"nominal","legend":null,"scale":{"domain":["exc","th","zero","dd","va","vo","ink"],"range":["#378a2d","#8c3a36","#ead000","#7b8b48","#0f3597","#a712d2","#000000"]}}}},
{"data":{"name":"txt"},"transform":[{"filter":"datum.p=='aB' && datum.r=='s'"}],"mark":{"type":"text","font":"DejaVu Sans","fontWeight":"bold","fontSize":22,"color":"#000"},"encoding":{"text":{"field":"s"}}},
{"data":{"name":"txt"},"transform":[{"filter":"datum.p=='aB' && datum.r=='xs'"}],"mark":{"type":"text","font":"DejaVu Sans","fontWeight":"bold","fontSize":14,"color":"#000"},"encoding":{"text":{"field":"s"}}},
{"data":{"name":"txt"},"transform":[{"filter":"datum.p=='aB' && datum.r=='cap'"}],"mark":{"type":"text","font":"DejaVu Sans","fontWeight":"normal","fontSize":18,"color":"#222"},"encoding":{"text":{"field":"s"}}}
]},
{"width":500,"height":330,
"encoding":{"x":{"field":"t","type":"quantitative","axis":null,"scale":{"domain":[-8.3,41.7],"nice":false,"zero":false}},"y":{"field":"v","type":"quantitative","axis":null,"scale":{"domain":[-0.58974,1.52564],"nice":false,"zero":false}}},
"layer":[
{"data":{"name":"refs"},"transform":[{"filter":"datum.p=='bB'"}],"mark":{"type":"rule","strokeWidth":2.4,"strokeDash":[8,4.5]},"encoding":{"x2":{"field":"t2"},"color":{"field":"h","type":"nominal","legend":null,"scale":{"domain":["exc","th","zero","dd","va","vo","ink"],"range":["#378a2d","#8c3a36","#ead000","#7b8b48","#0f3597","#a712d2","#000000"]}}}},
{"data":{"name":"thin"},"transform":[{"filter":"datum.p=='bB'"}],"mark":{"type":"rule","strokeWidth":1.6,"color":"#000"},"encoding":{"x2":{"field":"t2"},"y2":{"field":"v2"},"strokeDash":{"field":"k","type":"nominal","legend":null,"scale":{"domain":["solid","dash","vdash","dashdot","sdash"],"range":[[1,0],[5,3],[9,4],[10,3,2,3],[6,8]]}}}},
{"data":{"name":"sig"},"transform":[{"filter":"datum.p=='bB'"}],"mark":{"type":"line","strokeWidth":3.8},"encoding":{"color":{"field":"h","type":"nominal","legend":null,"scale":{"domain":["exc","th","zero","dd","va","vo","ink"],"range":["#378a2d","#8c3a36","#ead000","#7b8b48","#0f3597","#a712d2","#000000"]}},"detail":{"field":"seg","type":"nominal"},"order":{"field":"i","type":"quantitative"},"strokeDash":{"field":"k","type":"nominal","legend":null,"scale":{"domain":["solid","dash","vdash","dashdot","sdash"],"range":[[1,0],[5,3],[9,4],[10,3,2,3],[6,8]]}}}},
{"data":{"name":"thick"},"transform":[{"filter":"datum.p=='bB'"}],"mark":{"type":"rule","strokeWidth":3,"color":"#000"},"encoding":{"x2":{"field":"t2"},"y2":{"field":"v2"}}},
{"data":{"name":"heads"},"transform":[{"filter":"datum.p=='bB'"}],"mark":{"type":"point","filled":true,"size":400,"opacity":1,"color":"#000","strokeWidth":0},"encoding":{"shape":{"field":"k","type":"nominal","legend":null,"scale":{"domain":["axr","axu","r","l","u","d","g"],"range":["M0,0L-2.3,-0.8L-1.7,0L-2.3,0.8Z","M0,0L0.7,2.3L0,1.7L-0.7,2.3Z","M0,0L-1.1,-0.5L-0.8,0L-1.1,0.5Z","M0,0L1.1,-0.5L0.8,0L1.1,0.5Z","M0,0L0.5,1.1L0,0.8L-0.5,1.1Z","M0,0L0.5,-1.1L0,-0.8L-0.5,-1.1Z","M0,0L-0.97,-0.72L-0.39,-0.7L-0.1,-1.2Z"]}}}},
{"data":{"name":"txt"},"transform":[{"filter":"datum.p=='bB' && datum.r=='xl'"}],"mark":{"type":"text","font":"DejaVu Sans","fontWeight":"bold","fontSize":37},"encoding":{"text":{"field":"s"},"color":{"field":"h","type":"nominal","legend":null,"scale":{"domain":["exc","th","zero","dd","va","vo","ink"],"range":["#378a2d","#8c3a36","#ead000","#7b8b48","#0f3597","#a712d2","#000000"]}}}},
{"data":{"name":"txt"},"transform":[{"filter":"datum.p=='bB' && datum.r=='l'"}],"mark":{"type":"text","font":"DejaVu Sans","fontWeight":"bold","fontSize":33},"encoding":{"text":{"field":"s"},"color":{"field":"h","type":"nominal","legend":null,"scale":{"domain":["exc","th","zero","dd","va","vo","ink"],"range":["#378a2d","#8c3a36","#ead000","#7b8b48","#0f3597","#a712d2","#000000"]}}}},
{"data":{"name":"txt"},"transform":[{"filter":"datum.p=='bB' && datum.r=='m'"}],"mark":{"type":"text","font":"DejaVu Sans","fontWeight":"bold","fontSize":18.5},"encoding":{"text":{"field":"s"},"color":{"field":"h","type":"nominal","legend":null,"scale":{"domain":["exc","th","zero","dd","va","vo","ink"],"range":["#378a2d","#8c3a36","#ead000","#7b8b48","#0f3597","#a712d2","#000000"]}}}},
{"data":{"name":"txt"},"transform":[{"filter":"datum.p=='bB' && datum.r=='s'"}],"mark":{"type":"text","font":"DejaVu Sans","fontWeight":"bold","fontSize":22,"color":"#000"},"encoding":{"text":{"field":"s"}}},
{"data":{"name":"txt"},"transform":[{"filter":"datum.p=='bB' && datum.r=='xs'"}],"mark":{"type":"text","font":"DejaVu Sans","fontWeight":"bold","fontSize":14,"color":"#000"},"encoding":{"text":{"field":"s"}}},
{"data":{"name":"txt"},"transform":[{"filter":"datum.p=='bB' && datum.r=='cap'"}],"mark":{"type":"text","font":"DejaVu Sans","fontWeight":"normal","fontSize":18,"color":"#222"},"encoding":{"text":{"field":"s"}}}
]},
{"width":412,"height":330,
"encoding":{"x":{"field":"t","type":"quantitative","axis":null,"scale":{"domain":[-8.3,32.9],"nice":false,"zero":false}},"y":{"field":"v","type":"quantitative","axis":null,"scale":{"domain":[-0.58974,1.52564],"nice":false,"zero":false}}},
"layer":[
{"data":{"name":"refs"},"transform":[{"filter":"datum.p=='cB'"}],"mark":{"type":"rule","strokeWidth":2.4,"strokeDash":[8,4.5]},"encoding":{"x2":{"field":"t2"},"color":{"field":"h","type":"nominal","legend":null,"scale":{"domain":["exc","th","zero","dd","va","vo","ink"],"range":["#378a2d","#8c3a36","#ead000","#7b8b48","#0f3597","#a712d2","#000000"]}}}},
{"data":{"name":"thin"},"transform":[{"filter":"datum.p=='cB'"}],"mark":{"type":"rule","strokeWidth":1.6,"color":"#000"},"encoding":{"x2":{"field":"t2"},"y2":{"field":"v2"},"strokeDash":{"field":"k","type":"nominal","legend":null,"scale":{"domain":["solid","dash","vdash","dashdot","sdash"],"range":[[1,0],[5,3],[9,4],[10,3,2,3],[6,8]]}}}},
{"data":{"name":"sig"},"transform":[{"filter":"datum.p=='cB'"}],"mark":{"type":"line","strokeWidth":3.8},"encoding":{"color":{"field":"h","type":"nominal","legend":null,"scale":{"domain":["exc","th","zero","dd","va","vo","ink"],"range":["#378a2d","#8c3a36","#ead000","#7b8b48","#0f3597","#a712d2","#000000"]}},"detail":{"field":"seg","type":"nominal"},"order":{"field":"i","type":"quantitative"},"strokeDash":{"field":"k","type":"nominal","legend":null,"scale":{"domain":["solid","dash","vdash","dashdot","sdash"],"range":[[1,0],[5,3],[9,4],[10,3,2,3],[6,8]]}}}},
{"data":{"name":"thick"},"transform":[{"filter":"datum.p=='cB'"}],"mark":{"type":"rule","strokeWidth":3,"color":"#000"},"encoding":{"x2":{"field":"t2"},"y2":{"field":"v2"}}},
{"data":{"name":"heads"},"transform":[{"filter":"datum.p=='cB'"}],"mark":{"type":"point","filled":true,"size":400,"opacity":1,"color":"#000","strokeWidth":0},"encoding":{"shape":{"field":"k","type":"nominal","legend":null,"scale":{"domain":["axr","axu","r","l","u","d","g"],"range":["M0,0L-2.3,-0.8L-1.7,0L-2.3,0.8Z","M0,0L0.7,2.3L0,1.7L-0.7,2.3Z","M0,0L-1.1,-0.5L-0.8,0L-1.1,0.5Z","M0,0L1.1,-0.5L0.8,0L1.1,0.5Z","M0,0L0.5,1.1L0,0.8L-0.5,1.1Z","M0,0L0.5,-1.1L0,-0.8L-0.5,-1.1Z","M0,0L-0.97,-0.72L-0.39,-0.7L-0.1,-1.2Z"]}}}},
{"data":{"name":"txt"},"transform":[{"filter":"datum.p=='cB' && datum.r=='xl'"}],"mark":{"type":"text","font":"DejaVu Sans","fontWeight":"bold","fontSize":37},"encoding":{"text":{"field":"s"},"color":{"field":"h","type":"nominal","legend":null,"scale":{"domain":["exc","th","zero","dd","va","vo","ink"],"range":["#378a2d","#8c3a36","#ead000","#7b8b48","#0f3597","#a712d2","#000000"]}}}},
{"data":{"name":"txt"},"transform":[{"filter":"datum.p=='cB' && datum.r=='l'"}],"mark":{"type":"text","font":"DejaVu Sans","fontWeight":"bold","fontSize":33},"encoding":{"text":{"field":"s"},"color":{"field":"h","type":"nominal","legend":null,"scale":{"domain":["exc","th","zero","dd","va","vo","ink"],"range":["#378a2d","#8c3a36","#ead000","#7b8b48","#0f3597","#a712d2","#000000"]}}}},
{"data":{"name":"txt"},"transform":[{"filter":"datum.p=='cB' && datum.r=='m'"}],"mark":{"type":"text","font":"DejaVu Sans","fontWeight":"bold","fontSize":18.5},"encoding":{"text":{"field":"s"},"color":{"field":"h","type":"nominal","legend":null,"scale":{"domain":["exc","th","zero","dd","va","vo","ink"],"range":["#378a2d","#8c3a36","#ead000","#7b8b48","#0f3597","#a712d2","#000000"]}}}},
{"data":{"name":"txt"},"transform":[{"filter":"datum.p=='cB' && datum.r=='s'"}],"mark":{"type":"text","font":"DejaVu Sans","fontWeight":"bold","fontSize":22,"color":"#000"},"encoding":{"text":{"field":"s"}}},
{"data":{"name":"txt"},"transform":[{"filter":"datum.p=='cB' && datum.r=='xs'"}],"mark":{"type":"text","font":"DejaVu Sans","fontWeight":"bold","fontSize":14,"color":"#000"},"encoding":{"text":{"field":"s"}}},
{"data":{"name":"txt"},"transform":[{"filter":"datum.p=='cB' && datum.r=='cap'"}],"mark":{"type":"text","font":"DejaVu Sans","fontWeight":"normal","fontSize":18,"color":"#222"},"encoding":{"text":{"field":"s"}}}
]}
]
}
